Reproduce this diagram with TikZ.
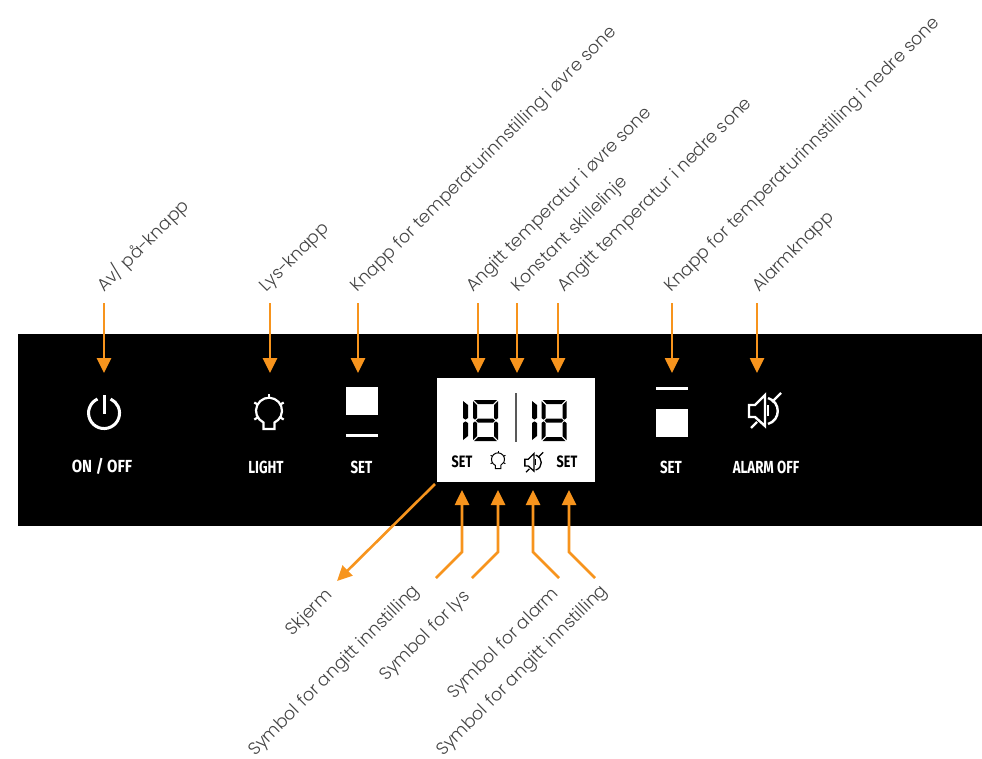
\documentclass[tikz,border=0pt]{standalone}
\usepackage{fontspec}
\usetikzlibrary{arrows.meta}
\newfontfamily\lightfont{Poppins Light}
\newfontfamily\panelfont{Fira Sans}
\definecolor{arroworange}{HTML}{F7941D}
\definecolor{labelgray}{HTML}{444444}
\newcommand{\iconlw}{2.2pt}
\tikzset{
  x=1pt,y=-1pt,
  lbl/.style={rotate=45,anchor=base west,inner sep=0pt,text=labelgray,font=\lightfont\fontsize{17.5}{17.5}\selectfont},
  arw/.style={draw=arroworange,line width=2.6pt,-{Triangle[length=15pt,width=14pt]}},
  paneltxt/.style={inner sep=0pt,text=white,font=\panelfont\bfseries\fontsize{17.5}{17.5}\selectfont,xscale=.76,transform shape},
  dark/.style={inner sep=0pt,text=black,font=\panelfont\bfseries\fontsize{16.5}{16.5}\selectfont,xscale=.76,transform shape},
  bulb/.pic={
    \draw[line width=\iconlw,pic actions] (-5.5,11.5) arc[start angle=115,end angle=425,radius=13] -- (5.5,18) -- (-5.5,18) -- cycle;
    \foreach \a in {-90,-30,30,150,210}{\draw[line width=\iconlw,pic actions] (\a:13) -- (\a:17);}
  },
  speaker/.pic={
    \draw[line width=\iconlw,line join=miter,pic actions] (-16,-5) -- (-10,-5) -- (0,-15) -- (0,16) -- (-10,7) -- (-16,7) -- cycle;
    \draw[line width=\iconlw,pic actions] (3,-12) .. controls (16,-8) and (16,10) .. (3,14);
    \draw[line width=\iconlw,pic actions] (3,-5) -- (3,6);
    \draw[line width=\iconlw,pic actions] (16,-17) -- (7,-8);
    \draw[line width=\iconlw,pic actions] (-14,18) -- (-8,12);
  },
  segone/.pic={
    \fill[black] (0,1) -- (5,5) -- (5,18) -- (2.5,19.6) -- (0,18) -- cycle;
    \fill[black] (0,23) -- (2.5,21.4) -- (5,23) -- (5,36) -- (0,40) -- cycle;
  },
  segeight/.pic={
    \fill[black] (1,0) -- (24,0) -- (20,4) -- (5,4) -- cycle;
    \fill[black] (0,1) -- (4,5) -- (4,18) -- (2,19.6) -- (0,18) -- cycle;
    \fill[black] (25,1) -- (21,5) -- (21,18) -- (23,19.6) -- (25,18) -- cycle;
    \fill[black] (3,20.5) -- (5,18.5) -- (20,18.5) -- (22,20.5) -- (20,22.5) -- (5,22.5) -- cycle;
    \fill[black] (0,23) -- (2,21.4) -- (4,23) -- (4,36) -- (0,40) -- cycle;
    \fill[black] (25,23) -- (23,21.4) -- (21,23) -- (21,36) -- (25,40) -- cycle;
    \fill[black] (1,41) -- (24,41) -- (20,37) -- (5,37) -- cycle;
  }
}
\begin{document}
\begin{tikzpicture}
\useasboundingbox (0,0) rectangle (982,758);
\fill[black] (18,334) rectangle (982,526);
\fill[white] (437,378) rectangle (595,482);

% power
\draw[white,line width=3pt] (104,395) -- (104,414);
\draw[white,line width=3pt] (97.5,399) arc[start angle=-115,end angle=-425,radius=15.5];
% bulb
\pic[white] at (269,411) {bulb};
% squares
\fill[white] (346,387) rectangle (378,415);
\fill[white] (346,434) rectangle (378,437);
\fill[white] (656,387) rectangle (688,390);
\fill[white] (656,409) rectangle (688,437);
% speaker
\renewcommand{\iconlw}{2.4pt}
\pic[white] at (765,410) {speaker};
% panel labels
\node[paneltxt,xscale=1.13] (onoff) at (102,466) {ON / OFF};
\node[paneltxt] (light) at (266,467) {LIGHT};
\node[paneltxt] (setl) at (361.5,467) {SET};
\node[paneltxt] (setr) at (671,467) {SET};
\node[paneltxt] (alarm) at (766,467) {ALARM OFF};
% display
\pic at (463,400) {segone};
\pic at (473,400) {segeight};
\pic at (532,400) {segone};
\pic at (541.5,400) {segeight};
\draw[black!65,line width=1.6pt] (516,393) -- (516,442);
\node[dark] (dset1) at (462,461.5) {SET};
\node[dark] (dset2) at (567,461.5) {SET};
\renewcommand{\iconlw}{1pt}
\pic[black,scale=.5] at (498,459.5) {bulb};
\renewcommand{\iconlw}{1.3pt}
\pic[black,scale=.57] at (534,462) {speaker};

% top labels
\node[lbl] (t1) at (104,293) {Av/ på-knapp};
\node[lbl] (t2) at (266,293) {Lys-knapp};
\node[lbl] (t3) at (357,293) {Knapp for temperaturinnstilling i øvre sone};
\node[lbl] (t4) at (473,293) {Angitt temperatur i øvre sone};
\node[lbl] (t5) at (518,293) {Konstant skillelinje};
\node[lbl] (t6) at (564,293) {Angitt temperatur i nedre sone};
\node[lbl] (t7) at (671,293) {Knapp for temperaturinnstilling i nedre sone};
\node[lbl] (t8) at (759,293) {Alarmknapp};
% bottom labels
\node[lbl] (b1) at (292,637) {Skjerm};
\node[lbl] (b2) at (255,757) {Symbol for angitt innstilling};
\node[lbl] (b3) at (386,682) {Symbol for lys};
\node[lbl] (b4) at (454,700) {Symbol for alarm};
\node[lbl] (b5) at (443,757) {Symbol for angitt innstilling};

% arrow ends
\foreach \n/\x in {1/104,2/270,3/358,4/478,5/517,6/558,7/672,8/757}{
  \coordinate (s\n) at (\x,303);
  \coordinate (e\n) at (\x,373);
  \draw[arw] (s\n) -- (e\n);
}
\coordinate (sk0) at (435,484);
\coordinate (sk1) at (337,581);
\draw[arw] (sk0) -- (sk1);
\foreach \n/\a/\x in {1/436/462,2/472/498,3/559/533,4/595/569}{
  \coordinate (p\n) at (\a,578);
  \coordinate (q\n) at (\x,552);
  \coordinate (r\n) at (\x,490);
  \draw[arw] (p\n) -- (q\n) -- (r\n);
}
\end{tikzpicture}
\end{document}
